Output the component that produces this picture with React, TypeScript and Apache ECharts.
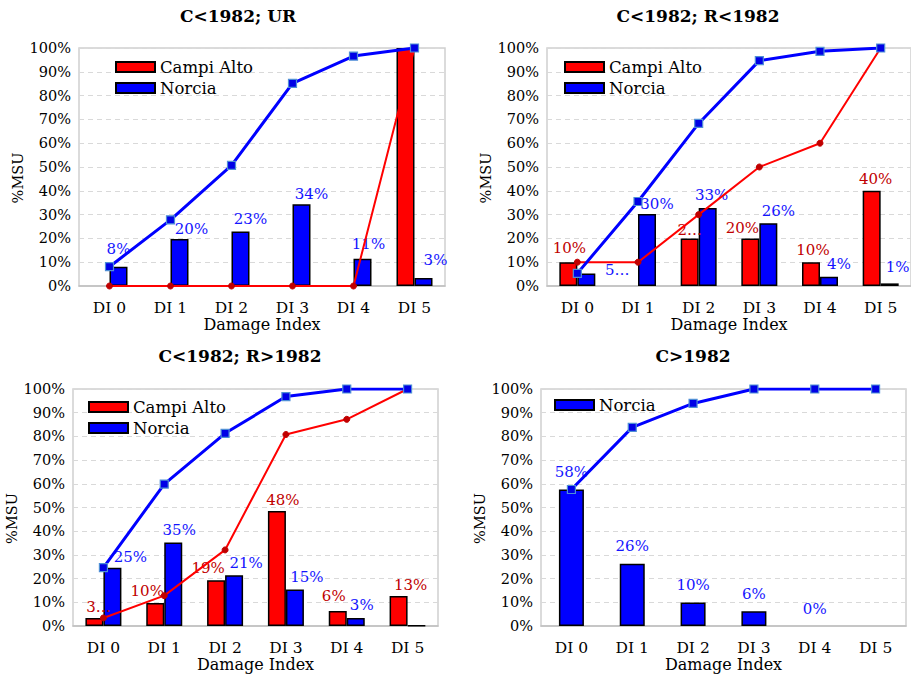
import React, { useEffect, useRef } from "react";
import * as echarts from "echarts";

// ---------- DATA ----------
const categories = ["DI 0", "DI 1", "DI 2", "DI 3", "DI 4", "DI 5"];
const yTicks = [0, 10, 20, 30, 40, 50, 60, 70, 80, 90, 100];

const titles = ["C<1982; UR", "C<1982; R<1982", "C<1982; R>1982", "C>1982"];

// Panel 1: C<1982; UR
const p1Campi = [0, 0, 0, 0, 0, 100];
const p1CampiCum = [0, 0, 0, 0, 0, 100];
const p1CampiLabels = ["", "", "", "", "", ""];
const p1Norcia = [8.1, 19.7, 22.9, 34.4, 11.5, 3.4];
const p1NorciaCum = [8.1, 27.8, 50.7, 85.1, 96.6, 100];
const p1NorciaLabels = ["8%", "20%", "23%", "34%", "11%", "3%"];

// Panel 2: C<1982; R<1982
const p2Campi = [10, 0, 20, 20, 10, 40];
const p2CampiCum = [10, 10, 30, 50, 60, 100];
const p2CampiLabels = ["10%", "", "2…", "20%", "10%", "40%"];
const p2Norcia = [5.3, 30.2, 32.8, 26.4, 3.9, 1.1];
const p2NorciaCum = [5.3, 35.5, 68.3, 94.7, 98.6, 100];
const p2NorciaLabels = ["5…", "30%", "33%", "26%", "4%", "1%"];

// Panel 3: C<1982; R>1982
const p3Campi = [3.4, 9.7, 19.3, 48.5, 6.3, 12.7];
const p3CampiCum = [3.4, 12.8, 32.1, 80.8, 87.2, 100];
const p3CampiLabels = ["3…", "10%", "19%", "48%", "6%", "13%"];
const p3Norcia = [24.6, 35.2, 21.4, 15.4, 3.4, 0.2];
const p3NorciaCum = [24.6, 59.9, 81.3, 96.8, 100, 100];
const p3NorciaLabels = ["25%", "35%", "21%", "15%", "3%", ""];

// Panel 4: C>1982
const p4Norcia = [57.6, 26.3, 9.9, 6.2, 0, 0];
const p4NorciaCum = [57.6, 83.8, 93.9, 100, 100, 100];
const p4NorciaLabels = ["58%", "26%", "10%", "6%", "0%", ""];

// ---------- LAYOUT (label nudges, px) ----------
const p1CampiNudgeX = [0, 0, 0, 0, 0, 0];
const p1CampiNudgeY = [0, 0, 0, 0, 0, 0];
const p1NorciaNudgeX = [0, 12, 10, 10, 6, 12];
const p1NorciaNudgeY = [-6, 1, -1, 1, -3, -6];
const p2CampiNudgeX = [1, 0, 0, -8, 2, 4];
const p2CampiNudgeY = [-3, 0, 3, 1, -1, 0];
const p2NorciaNudgeX = [31, 10, 4, 10, 10, 8];
const p2NorciaNudgeY = [8, 1, -1, -1, -1, -5];
const p3CampiNudgeX = [4, -8, -8, 6, -4, 12];
const p3CampiNudgeY = [1, -1, -1, 0, -4, 1];
const p3NorciaNudgeX = [18, 6, 12, 12, 6, 0];
const p3NorciaNudgeY = [1, -1, -1, -1, -1, 0];
const p4NorciaNudgeX = [0, 0, 0, 0, 0, 0];
const p4NorciaNudgeY = [-6, -6, -6, -6, -6, -6];

const FONT = "DejaVu Serif";
const RED = "#ff0000";
const BLUE = "#0000ff";
const RED_LABEL = "#c00000";
const BLUE_LABEL = "#1414ff";

type Series = { bars: number[]; cum: number[]; labels: string[]; nx: number[]; ny: number[] };
type Panel = {
  grid: { left: number; top: number; width: number; height: number };
  titleX: number;
  titleY: number;
  legendLeft: number;
  legendTop: number;
  campi?: Series;
  norcia: Series;
  barWidth: number;
};

const panels: Panel[] = [
  {
    grid: { left: 79, top: 48, width: 366, height: 238 },
    titleX: 238,
    titleY: 7,
    legendLeft: 115,
    legendTop: 57,
    campi: { bars: p1Campi, cum: p1CampiCum, labels: p1CampiLabels, nx: p1CampiNudgeX, ny: p1CampiNudgeY },
    norcia: { bars: p1Norcia, cum: p1NorciaCum, labels: p1NorciaLabels, nx: p1NorciaNudgeX, ny: p1NorciaNudgeY },
    barWidth: 18,
  },
  {
    grid: { left: 547, top: 48, width: 365, height: 238 },
    titleX: 698,
    titleY: 7,
    legendLeft: 564,
    legendTop: 57,
    campi: { bars: p2Campi, cum: p2CampiCum, labels: p2CampiLabels, nx: p2CampiNudgeX, ny: p2CampiNudgeY },
    norcia: { bars: p2Norcia, cum: p2NorciaCum, labels: p2NorciaLabels, nx: p2NorciaNudgeX, ny: p2NorciaNudgeY },
    barWidth: 18,
  },
  {
    grid: { left: 73, top: 389, width: 365, height: 237 },
    titleX: 240,
    titleY: 347,
    legendLeft: 88,
    legendTop: 397,
    campi: { bars: p3Campi, cum: p3CampiCum, labels: p3CampiLabels, nx: p3CampiNudgeX, ny: p3CampiNudgeY },
    norcia: { bars: p3Norcia, cum: p3NorciaCum, labels: p3NorciaLabels, nx: p3NorciaNudgeX, ny: p3NorciaNudgeY },
    barWidth: 18,
  },
  {
    grid: { left: 541, top: 389, width: 365, height: 237 },
    titleX: 693,
    titleY: 347,
    legendLeft: 554,
    legendTop: 395,
    norcia: { bars: p4Norcia, cum: p4NorciaCum, labels: p4NorciaLabels, nx: p4NorciaNudgeX, ny: p4NorciaNudgeY },
    barWidth: 25,
  },
];

function buildOption() {
  const grid: any[] = [];
  const xAxis: any[] = [];
  const yAxis: any[] = [];
  const title: any[] = [];
  const legend: any[] = [];
  const series: any[] = [];

  panels.forEach((p, k) => {
    grid.push({
      ...p.grid,
      show: true,
      borderColor: "#d0d0d0",
      borderWidth: 1.5,
      backgroundColor: "#ffffff",
      containLabel: false,
    });
    xAxis.push({
      type: "category",
      gridIndex: k,
      data: categories,
      axisTick: { show: false },
      axisLine: { show: true, lineStyle: { color: "#c0c0c0", width: 1.5 } },
      axisLabel: { margin: 14, fontFamily: FONT, fontSize: 15.5, color: "#000" },
      name: "Damage Index",
      nameLocation: "middle",
      nameGap: 29,
      nameTextStyle: { fontFamily: FONT, fontSize: 16, color: "#000" },
    });
    yAxis.push({
      type: "value",
      gridIndex: k,
      min: 0,
      max: 100,
      interval: 10,
      axisLine: { show: false },
      axisTick: { show: false },
      axisLabel: {
        margin: 8,
        fontFamily: FONT,
        fontSize: 14.5,
        color: "#000",
        formatter: (v: number) => (yTicks.includes(v) ? v + "%" : ""),
      },
      splitLine: { show: true, lineStyle: { color: "#d9d9d9", width: 1, type: [5, 4] } },
      name: "%MSU",
      nameLocation: "middle",
      nameGap: 50,
      nameTextStyle: { fontFamily: FONT, fontSize: 14.5, color: "#000", padding: [0, 22, 0, 0] },
    });
    title.push({
      text: titles[k],
      left: p.titleX,
      top: p.titleY,
      textAlign: "center",
      padding: 0,
      textStyle: { fontFamily: FONT, fontWeight: "bold", fontSize: 17, color: "#000" },
    });
    legend.push({
      data: p.campi ? ["Campi Alto", "Norcia"] : ["Norcia"],
      orient: "vertical",
      left: p.legendLeft,
      top: p.legendTop,
      padding: 0,
      itemWidth: 39,
      itemHeight: 10,
      itemGap: 1,
      icon: "rect",
      selectedMode: false,
      textStyle: { fontFamily: FONT, fontSize: 16.5, color: "#000", lineHeight: 20 },
    });

    const labelFor = (labels: string[], color: string, distance: number) => ({
      show: true,
      position: "top",
      distance,
      fontFamily: FONT,
      fontSize: 15,
      color,
      formatter: (pp: any) => labels[pp.dataIndex],
    });
    const mkData = (vals: number[], nx: number[], ny: number[]) =>
      vals.map((v, i) => ({
        value: v,
        label: { offset: [nx[i], ny[i]] },
        itemStyle: v === 0 ? { borderWidth: 0 } : undefined,
      }));

    if (p.campi) {
      series.push({
        type: "bar",
        name: "Campi Alto",
        xAxisIndex: k,
        yAxisIndex: k,
        barWidth: p.barWidth,
        barGap: "0%",
        z: 3,
        itemStyle: { color: RED, borderColor: "#000", borderWidth: 1.5 },
        label: labelFor(p.campi.labels, RED_LABEL, 4),
        data: mkData(p.campi.bars, p.campi.nx, p.campi.ny),
      });
    }
    series.push({
      type: "bar",
      name: "Norcia",
      xAxisIndex: k,
      yAxisIndex: k,
      barWidth: p.barWidth,
      barGap: "0%",
      z: 3,
      itemStyle: { color: BLUE, borderColor: "#000", borderWidth: 1.5 },
      label: labelFor(p.norcia.labels, BLUE_LABEL, 4),
      data: mkData(p.norcia.bars, p.norcia.nx, p.norcia.ny),
    });
    if (p.campi) {
      series.push({
        type: "line",
        name: "Campi Alto cumulative",
        xAxisIndex: k,
        yAxisIndex: k,
        z: 4,
        symbol: "circle",
        symbolSize: 6,
        itemStyle: { color: "#c00000", borderColor: "#c00000", borderWidth: 1 },
        lineStyle: { color: RED, width: 2 },
        label: { show: false },
        data: p.campi.cum,
      });
    }
    series.push({
      type: "line",
      name: "Norcia cumulative",
      xAxisIndex: k,
      yAxisIndex: k,
      z: 5,
      symbol: "rect",
      symbolSize: 8,
      itemStyle: { color: "#0000e6", borderColor: "#4f8fd6", borderWidth: 1.2 },
      lineStyle: { color: BLUE, width: 3 },
      label: { show: false },
      data: p.norcia.cum,
    });
  });

  return {
    animation: false,
    backgroundColor: "#ffffff",
    textStyle: { fontFamily: FONT },
    title,
    legend,
    grid,
    xAxis,
    yAxis,
    series,
  };
}

export default function App() {
  const ref = useRef<HTMLDivElement>(null);
  useEffect(() => {
    if (!ref.current) return;
    const chart = echarts.init(ref.current, undefined, { renderer: "svg" });
    chart.setOption(buildOption() as any);
    return () => chart.dispose();
  }, []);
  return (
    <div
      ref={ref}
      style={{ position: "fixed", left: 0, top: 0, width: 911, height: 678, background: "#fff" }}
    />
  );
}
